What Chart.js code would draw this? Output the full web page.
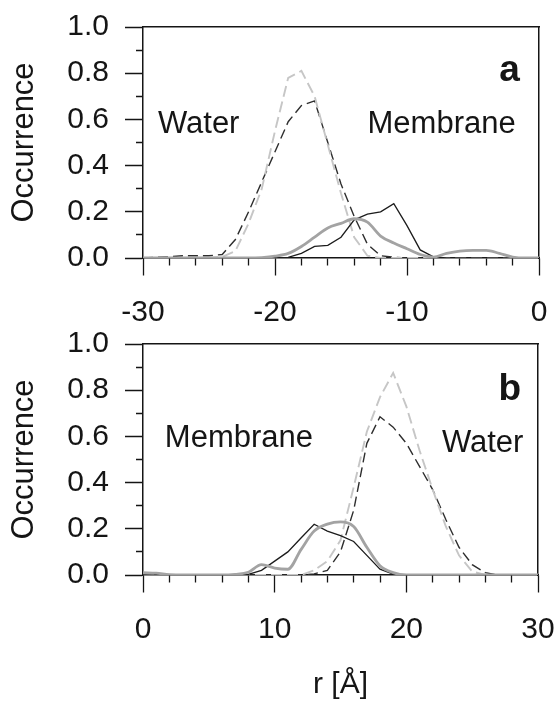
<!DOCTYPE html>
<html><head><meta charset="utf-8">
<script src="https://cdn.jsdelivr.net/npm/chart.js@4.4.1/dist/chart.umd.min.js"></script>
<style>
html,body{margin:0;padding:0;background:#fff;width:557px;height:703px;overflow:hidden}
#ca{position:absolute;left:0;top:0}
#cb{position:absolute;left:0;top:320px}
</style></head><body>
<canvas id="ca" width="557" height="330"></canvas>
<canvas id="cb" width="557" height="383"></canvas>
<script>
// ---- Panel a: r from -30 to 0 Å ----
const rA = [-30,-29,-28,-27,-26,-25,-24,-23,-22,-21,-20,-19,-18,-17,-16,-15,-14,-13,-12,-11,-10,-9,-8,-7,-6,-5,-4,-3,-2,-1,0];
const aLightDash = [0,0,0,0,0,0,0.005,0.03,0.15,0.30,0.55,0.78,0.81,0.70,0.49,0.28,0.09,0.01,0,0,0,0,0,0,0,0,0,0,0,0,0];
const aDarkDash  = [0,0.003,0.005,0.01,0.01,0.01,0.015,0.08,0.20,0.33,0.46,0.59,0.66,0.68,0.50,0.32,0.18,0.06,0.01,0.003,0,0,0,0,0,0,0,0,0,0,0];
const aBlack     = [0,0,0,0,0,0,0,0,0,0,0,0.003,0.02,0.05,0.055,0.09,0.165,0.19,0.20,0.235,0.14,0.035,0.005,0,0,0,0,0,0,0,0];
const aGray      = [0,0,0,0,0,0,0,0,0,0.002,0.008,0.02,0.05,0.09,0.13,0.15,0.17,0.155,0.095,0.065,0.04,0.015,0.004,0.02,0.03,0.033,0.033,0.02,0.004,0,0];

// ---- Panel b: r from 0 to 30 Å ----
const rB = [0,1,2,3,4,5,6,7,8,9,10,11,12,13,14,15,16,17,18,19,20,21,22,23,24,25,26,27,28,29,30];
const bLightDash = [0,0,0,0,0,0,0,0,0,0,0,0,0,0.02,0.06,0.15,0.38,0.62,0.77,0.875,0.73,0.54,0.37,0.21,0.085,0.015,0,0,0,0,0];
const bDarkDash  = [0,0,0,0,0,0,0,0,0,0,0,0,0,0.005,0.02,0.10,0.28,0.57,0.685,0.64,0.57,0.47,0.37,0.24,0.12,0.045,0.01,0,0,0,0];
const bBlack     = [0,0,0,0,0,0,0,0,0.003,0.02,0.06,0.10,0.16,0.22,0.19,0.17,0.145,0.085,0.025,0.004,0,0,0,0,0,0,0,0,0,0,0];
const bGray      = [0.01,0.008,0.002,0,0,0,0,0.003,0.012,0.045,0.03,0.025,0.11,0.19,0.22,0.23,0.21,0.12,0.04,0.01,0,0,0,0,0,0,0,0,0,0,0];

const yTicks = [0.0,0.2,0.4,0.6,0.8,1.0];
const xTicksA = [-30,-20,-10,0];
const xTicksB = [0,10,20,30];

const notesA = [
  {text:'Water', x:-28.87, y:0.542, bold:false},
  {text:'Membrane', x:-12.99, y:0.542, bold:false},
  {text:'a', x:-3.02, y:0.767, bold:true}
];
const notesB = [
  {text:'Membrane', x:1.66, y:0.554, bold:false},
  {text:'Water', x:22.7, y:0.532, bold:false},
  {text:'b', x:27.0, y:0.758, bold:true}
];

const FONT = "'Liberation Sans', Arial, sans-serif";
const INK = '#151515';

function pts(xs, ys){ return xs.map((x,i)=>({x:x, y:ys[i]})); }

function datasets(xs, light, dark, black, gray){
  return [
    {data:pts(xs,gray), borderColor:'#a3a3a3', borderWidth:2.8, cubicInterpolationMode:'monotone', tension:0.4},
    {data:pts(xs,black), borderColor:'#1c1c1c', borderWidth:1.3, tension:0},
    {data:pts(xs,light), borderColor:'#c6c6c6', borderWidth:1.9, borderDash:[11,5], tension:0},
    {data:pts(xs,dark), borderColor:'#2e2e2e', borderWidth:1.4, borderDash:[10,5], tension:0}
  ];
}

const notePlugin = {
  id:'notes',
  afterDatasetsDraw(chart, args, opts){
    const ctx = chart.ctx, sx = chart.scales.x, sy = chart.scales.y;
    ctx.save();
    ctx.fillStyle = INK;
    ctx.textBaseline = 'alphabetic';
    ctx.textAlign = 'left';
    for (const n of opts.items){
      ctx.font = (n.bold ? 'bold 37px ' : '31px ') + FONT;
      ctx.fillText(n.text, sx.getPixelForValue(n.x), sy.getPixelForValue(n.y));
    }
    ctx.restore();
  }
};

function makeChart(id, xs, sets, xmin, xmax, xMajors, notes, pad, xHeight, xTitle){
  return new Chart(document.getElementById(id), {
    type:'line',
    data:{datasets:sets},
    plugins:[notePlugin],
    options:{
      responsive:false, animation:false,
      layout:{padding:pad},
      elements:{point:{radius:0}},
      plugins:{legend:{display:false}, tooltip:{enabled:false}, notes:{items:notes}},
      scales:{
        x:{type:'linear', position:'bottom', min:xmin, max:xmax,
          afterFit:s=>{s.height = xHeight;},
          ticks:{stepSize:2, autoSkip:false, maxRotation:0, padding:0, color:INK,
            font:{family:FONT, size:30},
            callback:v=> xMajors.includes(v) ? String(v) : ''},
          grid:{drawOnChartArea:false, drawTicks:true, tickLength:37, tickWidth:1.3, tickColor:INK,
            tickBorderDash:c=> (c.tick && !xMajors.includes(c.tick.value)) ? [7,80] : [17,80]},
          border:{display:true, color:INK, width:1.5},
          title: xTitle ? {display:true, text:xTitle, color:INK, font:{family:FONT, size:30}, padding:{top:0,bottom:0}} : {display:false}
        },
        y:{type:'linear', position:'left', min:0, max:1,
          afterFit:s=>{s.width = 143;},
          ticks:{stepSize:0.1, autoSkip:false, padding:0, color:INK,
            font:{family:FONT, size:30},
            callback:v=>{ const k=Math.round(v*10); return yTicks.includes(k/10) && k%2===0 ? (k/10).toFixed(1) : ''; }},
          grid:{drawOnChartArea:false, drawTicks:true, tickLength:34, tickWidth:1.3, tickColor:INK,
            tickBorderDash:c=> (c.tick && Math.round(c.tick.value*10)%2!==0) ? [0,27,7,40] : [0,16,18,40]},
          border:{display:true, color:INK, width:1.5},
          title:{display:true, text:'Occurrence', color:INK, font:{family:FONT, size:31}, padding:{top:6,bottom:0}}
        },
        xTop:{type:'linear', position:'top', min:xmin, max:xmax,
          afterFit:s=>{s.height = 0;},
          ticks:{display:false, padding:0}, grid:{display:false, drawTicks:false},
          border:{display:true, color:INK, width:1.5}},
        yRight:{type:'linear', position:'right', min:0, max:1,
          afterFit:s=>{s.width = 0;},
          ticks:{display:false, padding:0}, grid:{display:false, drawTicks:false},
          border:{display:true, color:INK, width:1.5}}
      }
    }
  });
}

makeChart('ca', rA, datasets(rA, aLightDash, aDarkDash, aBlack, aGray), -30, 0, xTicksA, notesA,
  {top:27, right:18, left:0, bottom:0}, 72, null);
makeChart('cb', rB, datasets(rB, bLightDash, bDarkDash, bBlack, bGray), 0, 30, xTicksB, notesB,
  {top:24, right:19, left:0, bottom:0}, 128, 'r [Å]');
</script>
</body></html>
